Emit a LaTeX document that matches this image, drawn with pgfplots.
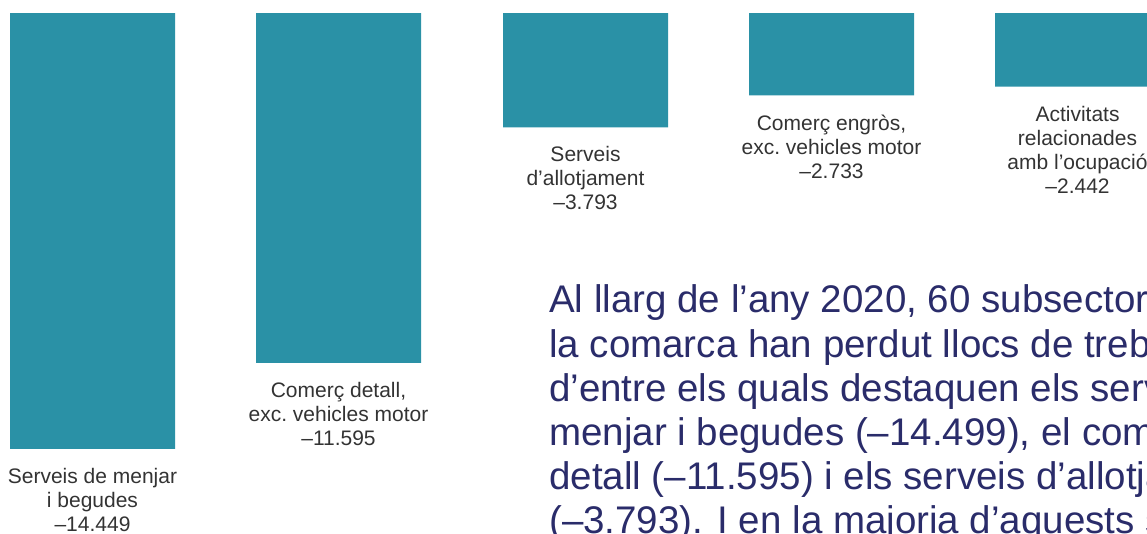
\documentclass[border=0pt]{standalone}
\usepackage{pgfplots}
\pgfplotsset{compat=1.18}
\usepackage{fontspec}
\setmainfont{Liberation Sans}
\definecolor{barcol}{RGB}{42,145,166}
\definecolor{labcol}{RGB}{51,51,51}
\definecolor{navy}{RGB}{42,44,106}
\begin{document}
\begin{tikzpicture}
\useasboundingbox (0pt,0pt) rectangle (1147pt,533pt);
\clip (0pt,0pt) rectangle (1147pt,533pt);
\begin{axis}[
  at={(0pt,0pt)}, anchor=south west,
  width=1147pt, height=533pt, scale only axis,
  hide axis, clip=false,
  xmin=0, xmax=1147,
  ymin=-17233, ymax=431,
]
\addplot[ybar, bar width=165, fill=barcol, draw=none,
  point meta=explicit symbolic,
  nodes near coords,
  every node near coord/.append style={anchor=north, align=center, inner sep=0pt,
     yshift=-19pt, text=labcol, font=\fontsize{21}{24}\selectfont}]
coordinates {
 (92.5,-14449) [{Serveis de menjar\\i begudes\\–14.449}]
 (338.5,-11595) [{Comerç detall,\\exc.\ vehicles motor\\–11.595}]
 (585.5,-3793) [{Serveis\\d’allotjament\\–3.793}]
 (831.5,-2733) [{Comerç engròs,\\exc.\ vehicles motor\\–2.733}]
 (1077.5,-2442) [{Activitats\\relacionades\\amb l’ocupació\\–2.442}]
};
\end{axis}
\begin{scope}[every node/.style={anchor=base west, inner sep=0pt, text=navy, font=\fontsize{38.5}{44}\selectfont}]
\node at (549pt,220pt) {Al llarg de l’any 2020, 60 subsectors de};
\node at (549pt,176pt) {la comarca han perdut llocs de treball,};
\node at (549pt,132pt) {d’entre els quals destaquen els serveis de};
\node at (549pt,88pt) {menjar i begudes (–14.499), el comerç al};
\node at (549pt,44pt) {detall (–11.595) i els serveis d’allotjament};
\node at (549pt,0pt) {(–3.793). I en la majoria d’aquests sectors};
\end{scope}
\end{tikzpicture}
\end{document}
